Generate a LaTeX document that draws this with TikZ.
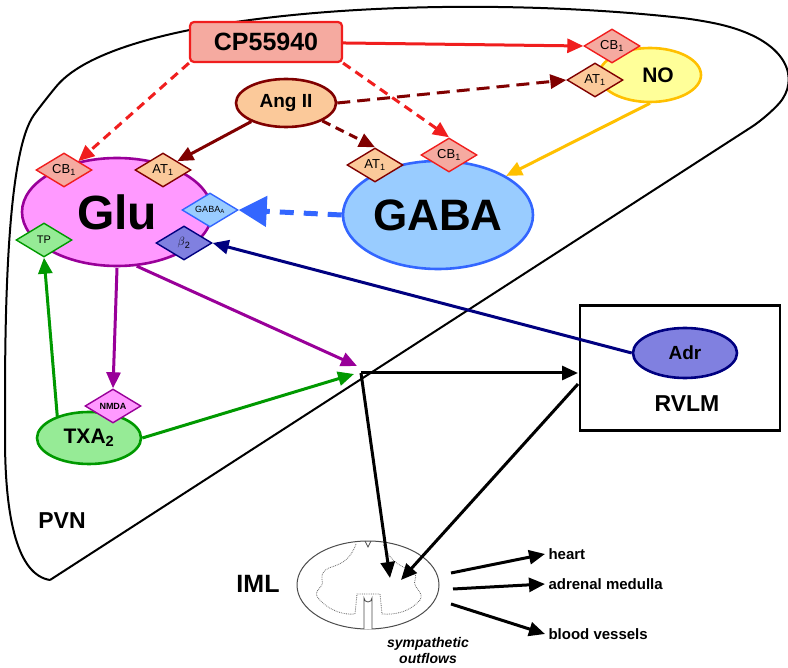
\documentclass[tikz,border=0pt]{standalone}
\usepackage{fontspec}
\setmainfont{Liberation Sans}
\usepackage{tikz}
\usetikzlibrary{shapes.geometric,arrows.meta}

\definecolor{cpred}{RGB}{240,30,30}
\definecolor{cpfill}{RGB}{245,170,160}
\definecolor{angred}{RGB}{128,0,0}
\definecolor{angfill}{RGB}{251,201,154}
\definecolor{nofill}{RGB}{255,255,153}
\definecolor{nodraw}{RGB}{255,192,0}
\definecolor{glufill}{RGB}{255,153,255}
\definecolor{gludraw}{RGB}{153,0,153}
\definecolor{gabafill}{RGB}{153,204,255}
\definecolor{gabadraw}{RGB}{51,102,255}
\definecolor{txfill}{RGB}{150,235,150}
\definecolor{txdraw}{RGB}{0,153,0}
\definecolor{adrfill}{RGB}{128,128,224}
\definecolor{adrdraw}{RGB}{0,0,128}

\tikzset{
  cell/.style={ellipse, draw, line width=2.6pt, inner sep=0pt},
  rec/.style={diamond, draw, line width=1.4pt, aspect=1.7, inner sep=1pt, minimum width=56pt, minimum height=34pt, font=\fontsize{13}{13}\selectfont},
  cbrec/.style={rec, fill=cpfill, draw=cpred},
  atrec/.style={rec, fill=angfill, draw=angred},
  tip/.style={line width=3pt, -{Triangle[length=16pt,width=14pt]}},
  big/.style={font=\fontsize{23}{23}\selectfont\bfseries}
}

\begin{document}
\begin{tikzpicture}[x=1pt,y=-1pt]
\useasboundingbox (0,0) rectangle (788,668);

% PVN outline
\draw[line width=2pt, rounded corners=18pt] (50,580) -- (767,117)
  .. controls (800,80) and (790,40) .. (700,20)
  .. controls (450,-8) and (120,10) .. (45,100)
  .. controls (8,150) and (5,300) .. (5,420)
  .. controls (5,520) and (18,575) .. (50,580);
\node[big] (pvn) at (62,521) {PVN};

% cells
\node[rectangle, rounded corners=4pt, draw=cpred, fill=cpfill, line width=2.2pt, minimum width=152pt, minimum height=40pt, font=\fontsize{25}{25}\selectfont\bfseries] (cp) at (266,42) {CP55940};
\node[cell, draw=angred, fill=angfill, minimum width=100pt, minimum height=48pt, font=\fontsize{19}{19}\selectfont\bfseries] (ang) at (286,103) {Ang II};
\node[cell, draw=nodraw, fill=nofill, minimum width=102pt, minimum height=54pt, font=\fontsize{21}{21}\selectfont\bfseries] (no) at (650,75) {\hspace*{16pt}NO};
\node[cell, draw=gludraw, fill=glufill, minimum width=190pt, minimum height=108pt, font=\fontsize{48}{48}\selectfont\bfseries] (glu) at (117,212) {Glu};
\node[cell, draw=gabadraw, fill=gabafill, minimum width=190pt, minimum height=108pt, font=\fontsize{44}{44}\selectfont\bfseries] (gaba) at (438,215) {GABA};
\node[cell, draw=txdraw, fill=txfill, minimum width=104pt, minimum height=52pt, font=\fontsize{21}{21}\selectfont\bfseries] (tx) at (89,438) {TXA\textsubscript{2}};

% receptors
\node[cbrec] (cbno) at (612,46) {CB\textsubscript{1}};
\node[atrec] (atno) at (595,80) {AT\textsubscript{1}};
\node[cbrec] (cbglu) at (64,170) {CB\textsubscript{1}};
\node[atrec] (atglu) at (163,170) {AT\textsubscript{1}};
\node[atrec] (atgaba) at (375,165) {AT\textsubscript{1}};
\node[cbrec] (cbgaba) at (449,155) {CB\textsubscript{1}};
\node[rec, fill=gabafill, draw=gabadraw, font=\fontsize{9}{9}\selectfont] (gabaa) at (210,210) {GABA\textsubscript{A}};
\node[rec, fill=txfill, draw=txdraw, font=\fontsize{11}{11}\selectfont] (tp) at (44,240) {TP};
\node[rec, fill=adrfill, draw=adrdraw] (b2) at (184,243) {$\beta$\textsubscript{2}};
\node[rec, fill=glufill, draw=gludraw, font=\fontsize{9}{9}\selectfont\bfseries] (nmda) at (113,406) {NMDA};

% RVLM
\node[rectangle, draw, line width=2.6pt, minimum width=200pt, minimum height=125pt] (rvlm) at (680,368) {};
\node[cell, draw=adrdraw, fill=adrfill, minimum width=104pt, minimum height=50pt, font=\fontsize{19}{19}\selectfont\bfseries] (adr) at (685,353) {Adr};
\node[big] (rvlmt) at (687,404) {RVLM};

% IML
\node[ellipse, draw=black!70, line width=1pt, minimum width=142pt, minimum height=88pt] (iml) at (368,585) {};
\draw[black!60, line width=0.8pt, densely dotted]
  (356,544) .. controls (345,575) and (320,560) .. (322,580)
  .. controls (325,588) and (312,590) .. (318,598)
  .. controls (330,612) and (345,615) .. (355,614)
  -- (357,594) -- (380,594) -- (382,614)
  .. controls (395,615) and (410,612) .. (420,600)
  .. controls (425,592) and (412,588) .. (415,580)
  .. controls (420,565) and (395,575) .. (383,544);
\draw[fill=white, draw=black!70, line width=0.8pt] (364,629) -- (364,598) arc[start angle=180, end angle=0, radius=4] -- (372,629);
\draw[black!70, line width=0.8pt] (365,541) -- (368,547) -- (371,541);
\node[font=\fontsize{25}{25}\selectfont\bfseries] (imlt) at (258,584) {IML};

\coordinate (jn) at (361,373);
\coordinate (jn1) at (357,366);
\coordinate (jn2) at (354,374);
\coordinate (rv1) at (578,373);
\coordinate (rv2) at (578,384);
\coordinate (im1) at (390,578);
\coordinate (im2) at (401,580);

% CP55940
\draw[cpred, tip] (cp) -- (cbno.west);
\draw[cpred, tip, dash pattern=on 9pt off 6pt] (cp.south west) -- (cbglu.north east);
\draw[cpred, tip, dash pattern=on 9pt off 6pt] (cp.south east) -- (cbgaba.north);
% Ang II
\draw[angred, tip, dash pattern=on 13pt off 7pt] (ang.east) -- (atno.west);
\draw[angred, tip] (ang) -- (atglu.north east);
\draw[angred, tip, dash pattern=on 9pt off 6pt] (ang.south east) -- (atgaba.north);
% NO, GABA
\draw[nodraw, tip] (no.south) -- (gaba.north east);
\draw[gabadraw, line width=5pt, dash pattern=on 14pt off 10pt, -{Triangle[length=28pt,width=30pt]}] (gaba.west) -- (gabaa.east);
% Glu
\draw[gludraw, tip] (117,268) -- (nmda.north);
\draw[gludraw, tip] (glu.290) -- (jn1);
% TXA2
\draw[txdraw, tip] (tx.north west) ++(6,-2) -- (tp.south);
\draw[txdraw, tip] (tx.east) -- (jn2);
% Adr
\draw[adrdraw, tip] (adr.west) -- (b2.east);
% outputs
\draw[tip] (jn) -- (rv1);
\draw[tip] (jn) -- (im1);
\draw[tip] (rv2) -- (im2);

\node[font=\fontsize{15}{15}\selectfont\bfseries, anchor=west] (heart) at (545,554) {heart};
\node[font=\fontsize{15}{15}\selectfont\bfseries, anchor=west] (adm) at (545,584) {adrenal medulla};
\node[font=\fontsize{15}{15}\selectfont\bfseries, anchor=west] (bv) at (545,634) {blood vessels};
\draw[tip] (451,573) -- (heart.west);
\draw[tip] (453,589) -- (adm.west);
\draw[tip] (451,604) -- (bv.west);
\node[font=\fontsize{14}{16}\selectfont\bfseries\itshape, align=center] (out) at (428,650) {sympathetic\\outflows};
\end{tikzpicture}
\end{document}
